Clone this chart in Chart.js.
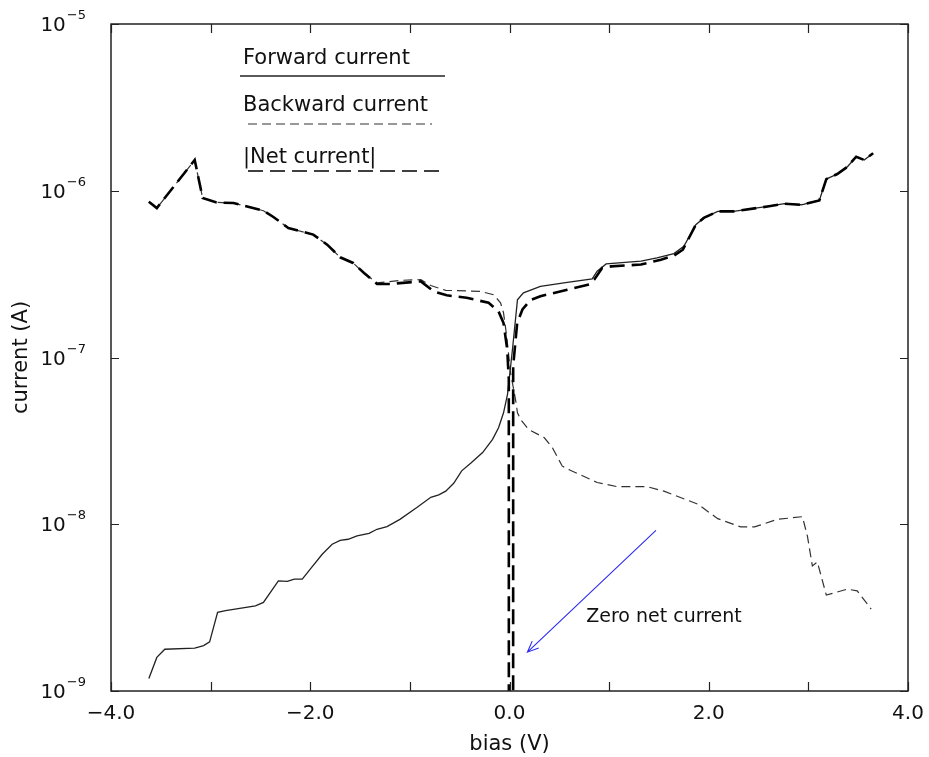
<!DOCTYPE html>
<html>
<head>
<meta charset="utf-8">
<script src="https://cdn.jsdelivr.net/npm/chart.js@4/dist/chart.umd.min.js"></script>
<style>
  body { margin: 0; background: #fff; }
  canvas { display: block; }
</style>
</head>
<body>
<canvas id="iv-chart" width="929" height="757"></canvas>
<script>
// values (bias in V, current in A)
const fwdBias = [-3.62, -3.54, -3.46, -3.16, -3.07, -3.01, -2.93, -2.85, -2.55, -2.47, -2.32, -2.23, -2.16, -2.08,
  -2.00, -1.88, -1.78, -1.70, -1.62, -1.53, -1.41, -1.33, -1.23, -1.10, -0.93, -0.79, -0.71, -0.64, -0.56, -0.48,
  -0.39, -0.27, -0.17, -0.11, -0.06, -0.02, 0.03, 0.08, 0.11, 0.14, 0.31, 0.58, 0.83, 0.88, 0.97, 1.32, 1.48, 1.65,
  1.75, 1.87, 1.95, 2.09, 2.25, 2.59, 2.76, 2.93, 3.11, 3.18, 3.29, 3.39, 3.48, 3.56, 3.65];
const fwdCurrent = [1.19e-9, 1.59e-9, 1.78e-9, 1.81e-9, 1.87e-9, 1.97e-9, 2.96e-9, 3.03e-9, 3.24e-9, 3.40e-9, 4.57e-9,
  4.54e-9, 4.69e-9, 4.69e-9, 5.38e-9, 6.61e-9, 7.59e-9, 8.01e-9, 8.13e-9, 8.51e-9, 8.83e-9, 9.33e-9, 9.68e-9, 1.07e-8,
  1.26e-8, 1.45e-8, 1.50e-8, 1.58e-8, 1.76e-8, 2.09e-8, 2.32e-8, 2.69e-8, 3.23e-8, 3.79e-8, 4.66e-8, 6.0e-8, 1.12e-7,
  2.22e-7, 2.33e-7, 2.44e-7, 2.67e-7, 2.82e-7, 2.96e-7, 3.29e-7, 3.64e-7, 3.78e-7, 3.96e-7, 4.20e-7, 4.64e-7, 6.25e-7,
  6.87e-7, 7.52e-7, 7.52e-7, 8.05e-7, 8.36e-7, 8.24e-7, 8.75e-7, 1.175e-6, 1.26e-6, 1.39e-6, 1.60e-6, 1.53e-6, 1.68e-6];

const bwdBias = [-3.62, -3.54, -3.16, -3.08, -2.94, -2.77, -2.47, -2.37, -2.22, -1.97, -1.83, -1.70, -1.57, -1.46,
  -1.33, -1.10, -0.89, -0.79, -0.64, -0.29, -0.16, -0.09, -0.06, -0.03, 0.01, 0.06, 0.08, 0.11, 0.19, 0.35, 0.43,
  0.53, 0.61, 0.88, 1.08, 1.38, 1.55, 1.89, 2.09, 2.32, 2.46, 2.69, 2.94, 2.99, 3.04, 3.09, 3.18, 3.39, 3.49, 3.63];
const bwdCurrent = [8.59e-7, 7.87e-7, 1.53e-6, 9.04e-7, 8.51e-7, 8.44e-7, 7.59e-7, 6.96e-7, 5.98e-7, 5.46e-7, 4.75e-7,
  3.99e-7, 3.69e-7, 3.21e-7, 2.80e-7, 2.90e-7, 2.93e-7, 2.70e-7, 2.53e-7, 2.49e-7, 2.38e-7, 2.13e-7, 1.85e-7, 1.37e-7,
  8.13e-8, 5.61e-8, 4.66e-8, 4.26e-8, 3.71e-8, 3.30e-8, 2.88e-8, 2.23e-8, 2.11e-8, 1.78e-8, 1.68e-8, 1.68e-8, 1.58e-8,
  1.32e-8, 1.08e-8, 9.64e-9, 9.64e-9, 1.07e-8, 1.11e-8, 8.51e-9, 5.62e-9, 5.94e-9, 3.76e-9, 4.08e-9, 3.99e-9, 3.10e-9];

const netBias = [-3.62, -3.54, -3.16, -3.08, -2.94, -2.77, -2.47, -2.37, -2.22, -1.97, -1.83, -1.70, -1.57, -1.46,
  -1.33, -1.20, -0.89, -0.76, -0.63, -0.43, -0.21, -0.11, -0.06, -0.023, -0.007, -0.006, 0.036, 0.037, 0.077, 0.13,
  0.21, 0.31, 0.58, 0.80, 0.85, 0.93, 1.02, 1.32, 1.52, 1.65, 1.74, 1.87, 1.95, 2.09, 2.25, 2.59, 2.76, 2.93, 3.11,
  3.18, 3.29, 3.39, 3.48, 3.56, 3.65];
const netCurrent = [8.59e-7, 7.87e-7, 1.53e-6, 9.04e-7, 8.51e-7, 8.44e-7, 7.59e-7, 6.96e-7, 5.98e-7, 5.46e-7, 4.75e-7,
  3.99e-7, 3.69e-7, 3.21e-7, 2.76e-7, 2.76e-7, 2.86e-7, 2.49e-7, 2.36e-7, 2.28e-7, 2.13e-7, 1.89e-7, 1.61e-7, 1.12e-7,
  7.4e-8, 1e-12, 1e-12, 8.9e-8, 1.61e-7, 1.94e-7, 2.21e-7, 2.33e-7, 2.55e-7, 2.74e-7, 2.93e-7, 3.44e-7, 3.52e-7,
  3.61e-7, 3.86e-7, 4.08e-7, 4.43e-7, 6.25e-7, 6.87e-7, 7.52e-7, 7.52e-7, 8.05e-7, 8.36e-7, 8.24e-7, 8.75e-7,
  1.175e-6, 1.26e-6, 1.39e-6, 1.60e-6, 1.53e-6, 1.68e-6];

const seriesNames = ["Forward current", "Backward current", "|Net current|"];
const yTickValues = [1e-9, 1e-8, 1e-7, 1e-6, 1e-5];
const yTickExponents = ["\u22129", "\u22128", "\u22127", "\u22126", "\u22125"];

// annotation: arrow tail, arrow head and text anchor in data units
const arrowFrom = { x: 1.47, y: 9.2e-9 };
const arrowTo = { x: 0.18, y: 1.71e-9 };
const noteText = "Zero net current";
const noteAt = { x: 0.77, y: 2.59e-9 };

const FONT = "'DejaVu Sans', sans-serif";

function toPoints(xs, ys) {
  return xs.map((x, i) => ({ x: x, y: ys[i] }));
}

// inside tick marks, frame, superscript y labels, legend and the arrow note
const decorPlugin = {
  id: "decor",
  afterDraw(chart) {
    const ctx = chart.ctx;
    const area = chart.chartArea;
    const xs = chart.scales.x;
    const ys = chart.scales.y;
    ctx.save();

    ctx.strokeStyle = "#222";
    ctx.lineWidth = 1.5;
    ctx.strokeRect(area.left, area.top, area.right - area.left, area.bottom - area.top);

    ctx.lineWidth = 1.2;
    ctx.beginPath();
    xs.ticks.forEach(t => {
      const px = Math.round(xs.getPixelForValue(t.value)) + 0.5;
      ctx.moveTo(px, area.bottom); ctx.lineTo(px, area.bottom - 9);
      ctx.moveTo(px, area.top); ctx.lineTo(px, area.top + 9);
    });
    yTickValues.forEach(v => {
      const py = Math.round(ys.getPixelForValue(v)) + 0.5;
      ctx.moveTo(area.left, py); ctx.lineTo(area.left + 8, py);
      ctx.moveTo(area.right, py); ctx.lineTo(area.right - 8, py);
    });
    ctx.stroke();

    // y tick labels 10^n
    ctx.fillStyle = "#111";
    yTickValues.forEach((v, i) => {
      const py = ys.getPixelForValue(v);
      ctx.font = "13px " + FONT;
      const expW = ctx.measureText(yTickExponents[i]).width;
      const right = area.left - 25;
      ctx.textAlign = "left";
      ctx.textBaseline = "alphabetic";
      ctx.fillText(yTickExponents[i], right - expW, py - 5);
      ctx.font = "20px " + FONT;
      ctx.textAlign = "right";
      ctx.fillText("10", right - expW - 1, py + 7);
    });

    // legend: text with the line sample under it
    const styles = chart.data.datasets;
    const legendRows = [
      { ds: 0, textY: 64, lineY: 76, x0: 240, x1: 445 },
      { ds: 1, textY: 111, lineY: 124, x0: 248, x1: 432 },
      { ds: 2, textY: 163, lineY: 171, x0: 248, x1: 443 }
    ];
    ctx.font = "21px " + FONT;
    ctx.textAlign = "left";
    ctx.textBaseline = "alphabetic";
    legendRows.forEach(r => {
      const d = styles.find(s => s.label === seriesNames[r.ds]);
      ctx.fillStyle = "#111";
      ctx.fillText(seriesNames[r.ds], 243, r.textY);
      ctx.strokeStyle = d.borderColor;
      ctx.lineWidth = d.legendWidth;
      ctx.setLineDash(d.borderDash || []);
      ctx.beginPath();
      ctx.moveTo(r.x0, r.lineY);
      ctx.lineTo(r.x1, r.lineY);
      ctx.stroke();
    });
    ctx.setLineDash([]);

    // arrow note
    const ax0 = xs.getPixelForValue(arrowFrom.x), ay0 = ys.getPixelForValue(arrowFrom.y);
    const ax1 = xs.getPixelForValue(arrowTo.x), ay1 = ys.getPixelForValue(arrowTo.y);
    const ang = Math.atan2(ay1 - ay0, ax1 - ax0);
    ctx.strokeStyle = "#2a2af0";
    ctx.lineWidth = 1.1;
    ctx.beginPath();
    ctx.moveTo(ax0, ay0);
    ctx.lineTo(ax1, ay1);
    ctx.moveTo(ax1 - 12 * Math.cos(ang - 0.4), ay1 - 12 * Math.sin(ang - 0.4));
    ctx.lineTo(ax1, ay1);
    ctx.lineTo(ax1 - 12 * Math.cos(ang + 0.4), ay1 - 12 * Math.sin(ang + 0.4));
    ctx.stroke();

    ctx.fillStyle = "#111";
    ctx.font = "19px " + FONT;
    ctx.fillText(noteText, xs.getPixelForValue(noteAt.x), ys.getPixelForValue(noteAt.y));

    ctx.restore();
  }
};

new Chart(document.getElementById("iv-chart"), {
  type: "line",
  data: {
    datasets: [
      {
        label: seriesNames[2],
        data: toPoints(netBias, netCurrent),
        borderColor: "#000",
        borderWidth: 2.6,
        legendWidth: 1.3,
        borderDash: [15, 7],
        order: 0
      },
      {
        label: seriesNames[0],
        data: toPoints(fwdBias, fwdCurrent),
        borderColor: "#222",
        borderWidth: 1.3,
        legendWidth: 1.3,
        order: 1
      },
      {
        label: seriesNames[1],
        data: toPoints(bwdBias, bwdCurrent),
        borderColor: "#333",
        borderWidth: 1.2,
        legendWidth: 1.2,
        borderDash: [9, 5],
        order: 2
      }
    ]
  },
  options: {
    responsive: false,
    animation: false,
    devicePixelRatio: 1,
    layout: { padding: { left: 0, right: 21, top: 24, bottom: 0 } },
    elements: { point: { radius: 0 }, line: { tension: 0, fill: false } },
    plugins: { legend: { display: false }, tooltip: { enabled: false } },
    scales: {
      x: {
        type: "linear",
        min: -4,
        max: 4,
        afterFit: s => { s.height = 66; s.paddingLeft = 0; s.paddingRight = 0; },
        grid: { display: false, drawTicks: false },
        border: { display: false },
        ticks: {
          stepSize: 1,
          padding: 11,
          color: "#111",
          font: { family: FONT, size: 20 },
          maxRotation: 0,
          callback: v => (Math.abs(v % 2) < 1e-9 ? (v < 0 ? "\u2212" : "") + Math.abs(v).toFixed(1) : "")
        },
        title: { display: true, text: "bias (V)", color: "#111", font: { family: FONT, size: 21 }, padding: 0 }
      },
      y: {
        type: "logarithmic",
        min: 1e-9,
        max: 1e-5,
        afterFit: s => { s.width = 111; s.paddingTop = 0; s.paddingBottom = 0; },
        afterBuildTicks: s => { s.ticks = yTickValues.map(v => ({ value: v })); },
        grid: { display: false, drawTicks: false },
        border: { display: false },
        ticks: { display: false },
        title: { display: true, text: "current (A)", color: "#111", font: { family: FONT, size: 21 }, padding: { top: 9, bottom: 0 } }
      }
    }
  },
  plugins: [decorPlugin]
});
</script>
</body>
</html>
